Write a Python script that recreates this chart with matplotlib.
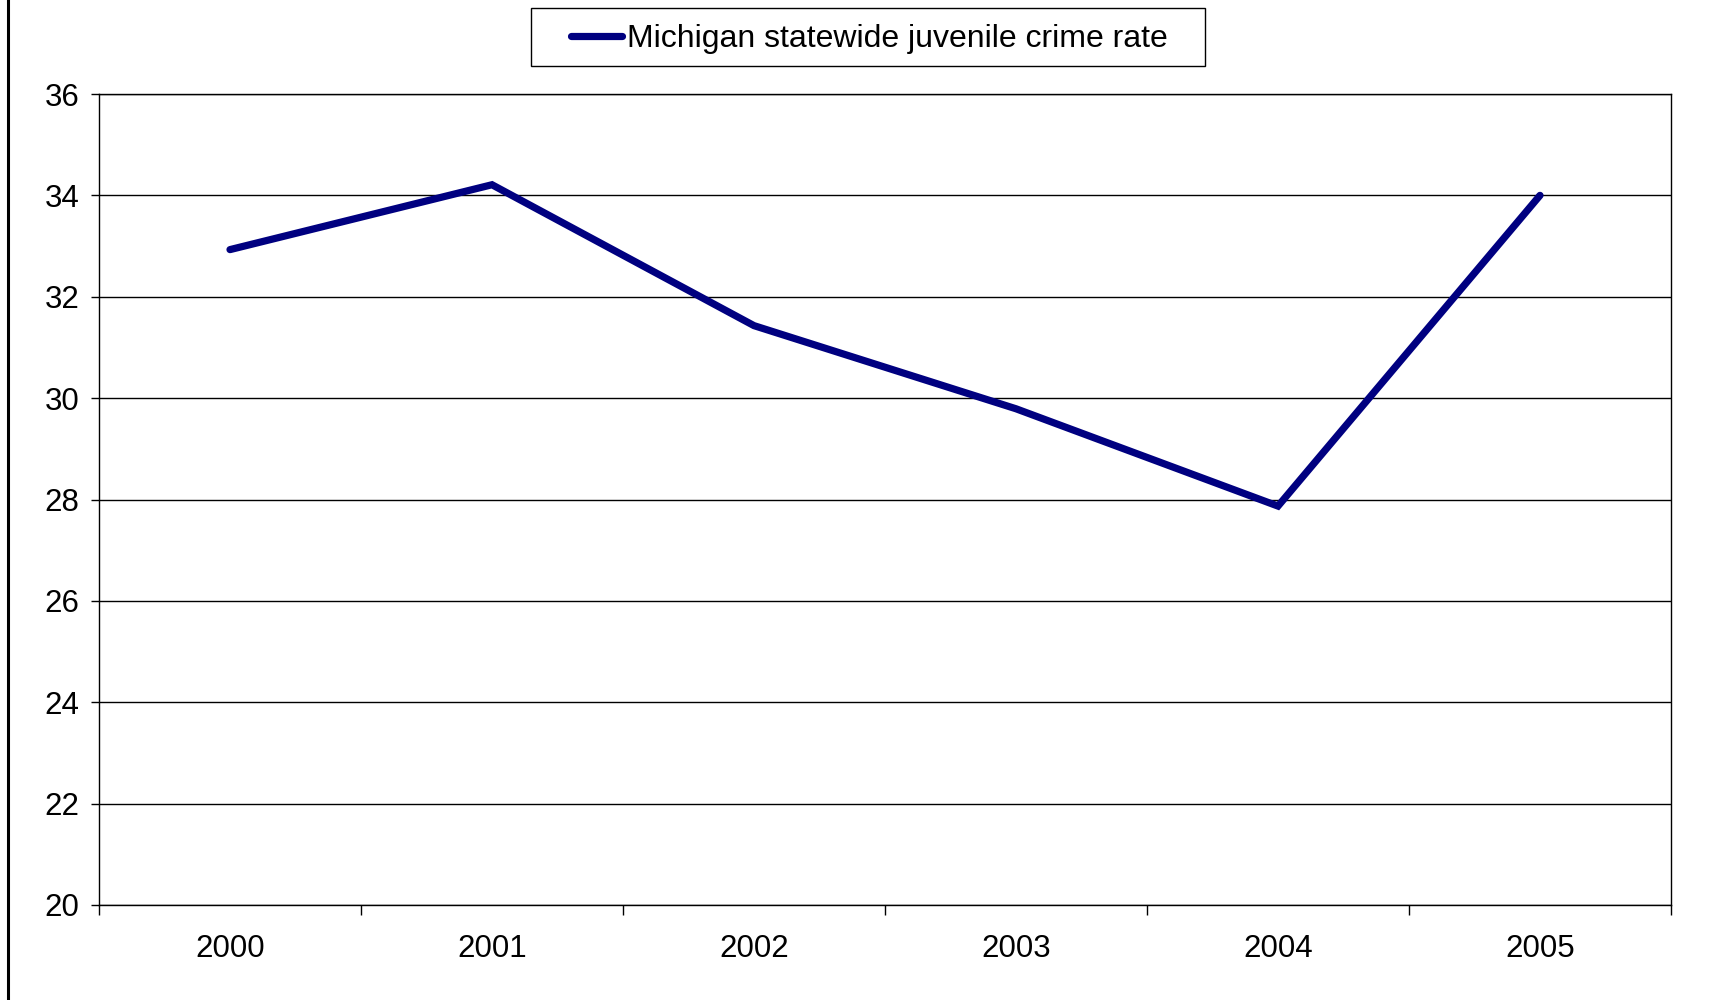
import matplotlib.pyplot as plt
from matplotlib.lines import Line2D
from matplotlib.patches import Rectangle

years = ['2000', '2001', '2002', '2003', '2004', '2005']
crime_rate = [32.93, 34.21, 31.43, 29.79, 27.87, 34.0]
y_ticks = [20, 22, 24, 26, 28, 30, 32, 34, 36]
series_label = 'Michigan statewide juvenile crime rate'

plt.rcParams['font.family'] = ['Liberation Sans', 'DejaVu Sans']

W, H = 1734, 1000
fig = plt.figure(figsize=(W / 100, H / 100), dpi=100)
# plot area in pixels: left 99, right 1671, top 94, bottom 905
ax = fig.add_axes([99 / W, 1 - 905 / H, (1671 - 99) / W, (905 - 94) / H])

x = [i + 0.5 for i in range(len(years))]
ax.plot(x, crime_rate, color='#000080', lw=5.2, solid_joinstyle='miter',
        solid_capstyle='round', label=series_label, zorder=3)

ax.set_xlim(0, len(years))
ax.set_ylim(20, 36)
ax.set_yticks(y_ticks)
ax.set_yticklabels([str(v) for v in y_ticks])
ax.set_xticks(x)
ax.set_xticklabels(years)
ax.set_xticks(range(len(years) + 1), minor=True)

ax.grid(axis='y', color='black', lw=1)
for s in ax.spines.values():
    s.set_color('black')
    s.set_linewidth(1)

ax.tick_params(axis='y', length=6, width=1, pad=8, labelsize=22.5)
ax.tick_params(axis='x', which='major', length=0, pad=21, labelsize=22.5)
ax.tick_params(axis='x', which='minor', length=7, width=1)

# legend text and key, boxed separately so the box can be wider than its content
leg = ax.legend(loc='center', bbox_to_anchor=(869 / W, 1 - 39 / H),
                bbox_transform=fig.transFigure, fontsize=23,
                frameon=False, handlelength=1.6, handletextpad=0.15,
                borderpad=0.2)
fig.add_artist(Rectangle((531 / W, 1 - 66 / H), (1205 - 531) / W, 58 / H,
                         transform=fig.transFigure, fill=False,
                         edgecolor='black', lw=1))

# chart border remnant on the left edge
fig.add_artist(Line2D([8 / W, 8 / W], [0, 1], color='black', lw=2.2,
                      transform=fig.transFigure))

fig.savefig('out.png', dpi=100)
